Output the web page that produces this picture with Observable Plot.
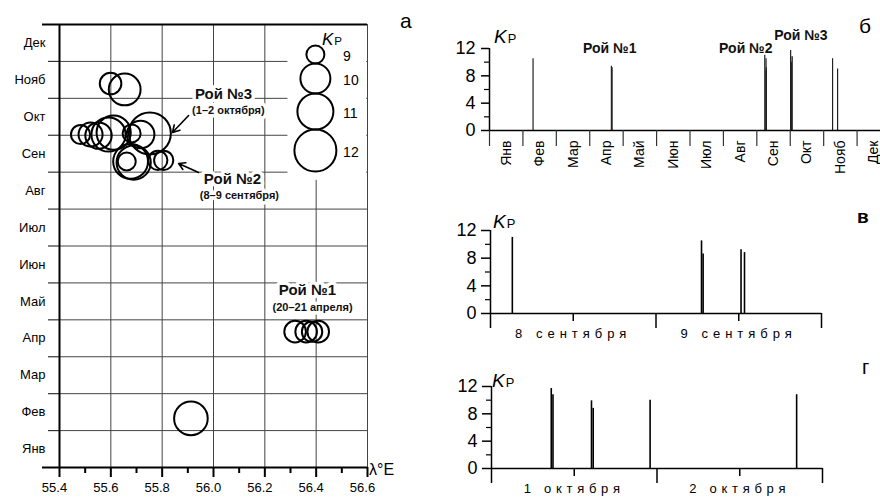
<!DOCTYPE html>
<html><head><meta charset="utf-8">
<script src="https://cdn.jsdelivr.net/npm/d3@7"></script>
<script src="https://cdn.jsdelivr.net/npm/@observablehq/plot@0.6"></script>
<style>
html,body{margin:0;padding:0;background:#fff;overflow:hidden}
#wrap{position:relative;width:880px;height:498px;overflow:hidden;background:#fff}
#wrap > svg{position:absolute;overflow:visible}
</style></head>
<body><div id="wrap"></div>
<script>
// ---------- DATA ----------
const monthNames = ["Янв","Фев","Мар","Апр","Май","Июн","Июл","Авг","Сен","Окт","Нояб","Дек"];
const lonTicks = [55.4,55.6,55.8,56.0,56.2,56.4,56.6];
const lonMinor = [55.5,55.7,55.9,56.1,56.3,56.5];
const lonGrid = [55.6,55.8,56.0,56.2,56.4];
const kpTicks = [0,4,8,12];
const kpMinor = [2,6,10];

// panel а: epicentre longitude, position in year (month units, Jan = 0..1), Kp
const swarmLon   = [55.912, 56.318,56.361,56.384,56.408, 55.677,55.689,55.662,55.783,55.806, 55.482,55.521,55.552,55.591,55.611,55.681,55.716,55.752, 55.599,55.654];
const swarmMonth = [1.33,   3.68,3.68,3.68,3.68,         8.29,8.26,8.29,8.32,8.32,          9.02,9.02,8.99,9.02,9.07,9.05,9.02,9.05,               10.40,10.24];
const swarmKp    = [10.6,   9.3,9.3,9.2,9.3,             10.8,10.7,9.0,9.1,9.1,             9.1,9.5,9.7,10.7,10.7,9.0,9.8,12.0,                     9.3,10.3];
const legendKp = [9,10,11,12];

// swarm annotations
const roiNames = ["Рой №1","Рой №2","Рой №3"];
const roiDates = ["(20–21 апреля)","(8–9 сентября)","(1–2 октября)"];

// panel в: 8–9 September
const sepTimes = ["2015-09-08T03:10Z","2015-09-09T06:36Z","2015-09-09T06:50Z","2015-09-09T12:20Z","2015-09-09T12:50Z"];
const sepKp = [11.0,10.5,8.6,9.2,8.8];
const sepDays = ["2015-09-08","2015-09-09","2015-09-10"];
// panel г: 1–2 October
const octTimes = ["2015-10-01T08:40Z","2015-10-01T08:55Z","2015-10-01T14:30Z","2015-10-01T14:45Z","2015-10-01T23:00Z","2015-10-02T20:15Z"];
const octKp = [11.7,10.8,9.9,8.8,10.0,10.8];
const octDays = ["2015-10-01","2015-10-02","2015-10-03"];
// other events of the year (panel б)
const otherTimes = ["2015-02-09T12:00Z","2015-04-20T10:00Z","2015-04-21T02:00Z","2015-11-09T00:00Z","2015-11-13T12:00Z"];
const otherKp = [10.5,9.4,9.2,10.5,9.0];

// ---------- HELPERS ----------
const FONT = '"Liberation Sans", Arial, Helvetica, sans-serif';
const wrap = document.getElementById("wrap");
function place(svg, left, top){ svg.style.left = left+"px"; svg.style.top = top+"px"; wrap.appendChild(svg); }
function monthPos(t){
  const d = new Date(t), m = d.getUTCMonth(), y = d.getUTCFullYear();
  const dim = new Date(Date.UTC(y, m+1, 0)).getUTCDate();
  return m + (d.getUTCDate()-1 + d.getUTCHours()/24 + d.getUTCMinutes()/1440)/dim;
}
const noHalo = () => "";

// ---------- PANEL а ----------
const A = {W:430, H:498, mt:24, mb:31, ml:59, mr:63};
const monthPx = (A.H - A.mt - A.mb)/12;
const kpRadius = [9,15,18,21];
const rad = d3.scaleLinear(legendKp, kpRadius);
const legendMon = [];
{ let cy = A.mt + 21;
  legendKp.forEach((k,i)=>{ cy += i===0 ? rad(k) : rad(legendKp[i-1]) + rad(k); legendMon.push(12 - (cy - A.mt)/monthPx); }); }
const legendLon = 56.397, legendLabelLon = 56.505;

const swarm = swarmLon.map((lon,i)=>({lon, m: swarmMonth[i], kp: swarmKp[i]}));
const roiLon = [56.366, 56.074, 56.039], roiMon = [4.79, 7.80, 10.10];
const roiSubLon = [56.386, 56.101, 56.058], roiSubMon = [4.33, 7.37, 9.67];
const arrows = [
  {x1:55.903, y1:9.535, x2:55.840, y2:9.074},
  {x1:55.942, y1:7.99, x2:55.864, y2:8.235}
];

const plotA = Plot.plot({
  width:A.W, height:A.H, marginTop:A.mt, marginBottom:A.mb, marginLeft:A.ml, marginRight:A.mr,
  x:{domain:[55.4,56.6], label:null}, y:{domain:[0,12], label:null},
  r:{type:"linear", domain:legendKp, range:kpRadius},
  style:{fontFamily:FONT, fontSize:"13px", color:"#000", background:"transparent"},
  marks:[
    Plot.gridX({ticks:lonGrid, stroke:"#444", strokeOpacity:1, strokeWidth:1}),
    Plot.gridY({ticks:d3.range(1,12), stroke:"#444", strokeOpacity:1, strokeWidth:1}),
    Plot.axisY({ticks:d3.range(1,12), tickSize:11, tickFormat:noHalo, stroke:"#333", strokeWidth:1.2, label:null}),
    Plot.axisY({ticks:[0,12], tickSize:17, tickFormat:noHalo, strokeWidth:2, label:null}),
    Plot.axisY({ticks:d3.range(12).map(i=>i+0.5), tickSize:0, tickPadding:14, tickFormat:v=>monthNames[Math.floor(v)], fontSize:13, label:null}),
    Plot.axisX({ticks:lonTicks, tickSize:10, strokeWidth:2, tickFormat:noHalo, label:null}),
    Plot.axisX({ticks:lonMinor, tickSize:6, strokeWidth:2, tickFormat:noHalo, label:null}),
    Plot.axisX({ticks:lonTicks, tickSize:0, tickPadding:15, dx:-5, tickFormat:d3.format(".1f"), fontSize:13, label:null}),
    Plot.rect([0], {x1:56.29, x2:56.597, y1:7.78, y2:11.97, fill:"white"}),
    Plot.ruleY([0,12], {stroke:"#000", strokeWidth:2}),
    Plot.ruleX([55.4], {stroke:"#000", strokeWidth:2}),
    Plot.ruleX([56.6], {stroke:"#444", strokeWidth:1}),
    Plot.text(roiNames, {x:(d,i)=>roiLon[i], y:(d,i)=>roiMon[i], text:d=>d, fontWeight:"bold", fontSize:15,
      fill:"#111", stroke:"white", strokeWidth:7, paintOrder:"stroke", strokeLinejoin:"round"}),
    Plot.text(roiDates, {x:(d,i)=>roiSubLon[i], y:(d,i)=>roiSubMon[i], text:d=>d, fontWeight:"bold", fontSize:11,
      fill:"#111", stroke:"white", strokeWidth:7, paintOrder:"stroke", strokeLinejoin:"round"}),
    Plot.arrow(arrows, {x1:"x1", y1:"y1", x2:"x2", y2:"y2", stroke:"#000", strokeWidth:1.6, headLength:8}),
    Plot.dot(swarm, {x:"lon", y:"m", r:"kp", stroke:"#000", strokeWidth:2, fill:"none", sort:null}),
    Plot.dot(legendKp, {x:()=>legendLon, y:(d,i)=>legendMon[i], r:d=>d, stroke:"#000", strokeWidth:2, fill:"none"}),
    Plot.text(legendKp, {x:()=>legendLabelLon, y:(d,i)=>legendMon[i], text:d=>String(d), textAnchor:"start", fontSize:14, dy:2})
  ]
});
place(plotA, 0, 0);

// ---------- PANEL б ----------
const yearEvents = [...otherTimes.map((t,i)=>({t, kp:otherKp[i]})),
                    ...sepTimes.map((t,i)=>({t, kp:sepKp[i]})),
                    ...octTimes.map((t,i)=>({t, kp:octKp[i]}))].map(d=>({x:monthPos(d.t), kp:d.kp}));
const roiYearX = [3.6, 7.67, 9.32], roiYearKp = [12.0, 12.0, 13.9];
const plotB = Plot.plot({
  width:460, height:190, marginTop:48, marginBottom:60, marginLeft:59, marginRight:0,
  x:{domain:[0,12], label:null}, y:{domain:[0,12], label:null},
  style:{fontFamily:FONT, fontSize:"14px", color:"#000", background:"transparent"},
  marks:[
    Plot.ruleX(yearEvents, {x:"x", y1:0, y2:"kp", stroke:"#222", strokeWidth:1.2}),
    Plot.ruleY([0], {stroke:"#000", strokeWidth:1.5}),
    Plot.ruleX([0], {y1:0, y2:12, stroke:"#000", strokeWidth:1.5}),
    Plot.axisY({ticks:kpTicks, tickSize:8, tickPadding:6, fontSize:18, strokeWidth:1.5, label:null}),
    Plot.axisY({ticks:kpMinor, tickSize:5, tickFormat:noHalo, strokeWidth:1.2, label:null}),
    Plot.axisX({ticks:d3.range(12), tickSize:16, tickFormat:noHalo, strokeWidth:1.2, stroke:"#333", label:null}),
    Plot.axisX({ticks:d3.range(12).map(i=>i+0.5), tickSize:0, tickPadding:10, tickRotate:-90,
      tickFormat:v=>monthNames[Math.floor(v)], fontSize:14, label:null}),
    Plot.text(roiNames, {x:(d,i)=>roiYearX[i], y:(d,i)=>roiYearKp[i], text:d=>d, fontWeight:"bold", fontSize:14, fill:"#111"})
  ]
});
place(plotB, 430, 0);

// ---------- PANELS в, г ----------
function dayPanel(times, kps, days, monthWord, opts){
  const ev = times.map((t,i)=>({t:new Date(t), kp:kps[i]}));
  const dayDates = days.map(d=>new Date(d+"T00:00Z"));
  const noons = dayDates.slice(0,-1).map(d=>new Date(+d + 12*3600e3));
  const svg = Plot.plot({
    width:450, height:opts.h, marginTop:opts.mt, marginBottom:opts.mb, marginLeft:opts.ml, marginRight:opts.mr,
    x:{type:"utc", domain:[dayDates[0], dayDates[dayDates.length-1]], label:null}, y:{domain:[0,12], label:null},
    style:{fontFamily:FONT, fontSize:"13px", color:"#000", background:"transparent"},
    marks:[
      Plot.ruleX(ev, {x:"t", y1:0, y2:"kp", stroke:"#000", strokeWidth:1.6}),
      Plot.ruleY([0], {stroke:"#000", strokeWidth:1.5}),
      Plot.ruleX([dayDates[0]], {y1:0, y2:12, stroke:"#000", strokeWidth:1.5}),
      Plot.axisY({ticks:kpTicks, tickSize:9, tickPadding:5, fontSize:18, strokeWidth:1.5, label:null}),
      Plot.axisY({ticks:kpMinor, tickSize:5, tickFormat:noHalo, strokeWidth:1.2, label:null}),
      Plot.axisX({ticks:dayDates, tickSize:15, tickFormat:noHalo, strokeWidth:1.5, label:null}),
      Plot.axisX({ticks:noons, tickSize:8, tickPadding:opts.pad, strokeWidth:1.5,
        tickFormat:d=>d.getUTCDate()+" "+monthWord, fontSize:13, label:null})
    ]
  });
  d3.select(svg).selectAll('g[aria-label="x-axis tick label"] text').style("letter-spacing", opts.ls+"px");
  return svg;
}
place(dayPanel(sepTimes, sepKp, sepDays, "сентября", {h:155, mt:40, mb:32, ml:60, mr:59, pad:7, ls:5}), 430, 190);
place(dayPanel(octTimes, octKp, octDays, "октября", {h:158, mt:46, mb:30, ml:61, mr:58, pad:7, ls:4.7}), 430, 340);

// ---------- OVERLAY TEXT ----------
const ov = d3.create("svg").attr("width",880).attr("height",498)
  .style("font-family", FONT).style("pointer-events","none");
function kp(x, y, s){
  const t = ov.append("text").attr("x",x).attr("y",y).attr("font-size",s).attr("font-style","italic").text("K");
  t.append("tspan").attr("font-size", s*0.68).attr("font-style","normal").attr("dx",1).attr("dy",0).text("Р");
}
kp(322, 45, 17);
kp(494, 43, 19);
kp(493, 228, 19);
kp(492, 387, 19);
ov.append("text").attr("x",400).attr("y",28).attr("font-size",21).text("а");
ov.append("text").attr("x",859).attr("y",33).attr("font-size",21).text("б");
ov.append("text").attr("x",857).attr("y",223).attr("font-size",19).attr("font-weight","bold").text("в");
ov.append("text").attr("x",862).attr("y",374).attr("font-size",20).text("г");
ov.append("text").attr("x",369).attr("y",475).attr("font-size",16).text("λ°E");
place(ov.node(), 0, 0);
</script>
</body></html>
